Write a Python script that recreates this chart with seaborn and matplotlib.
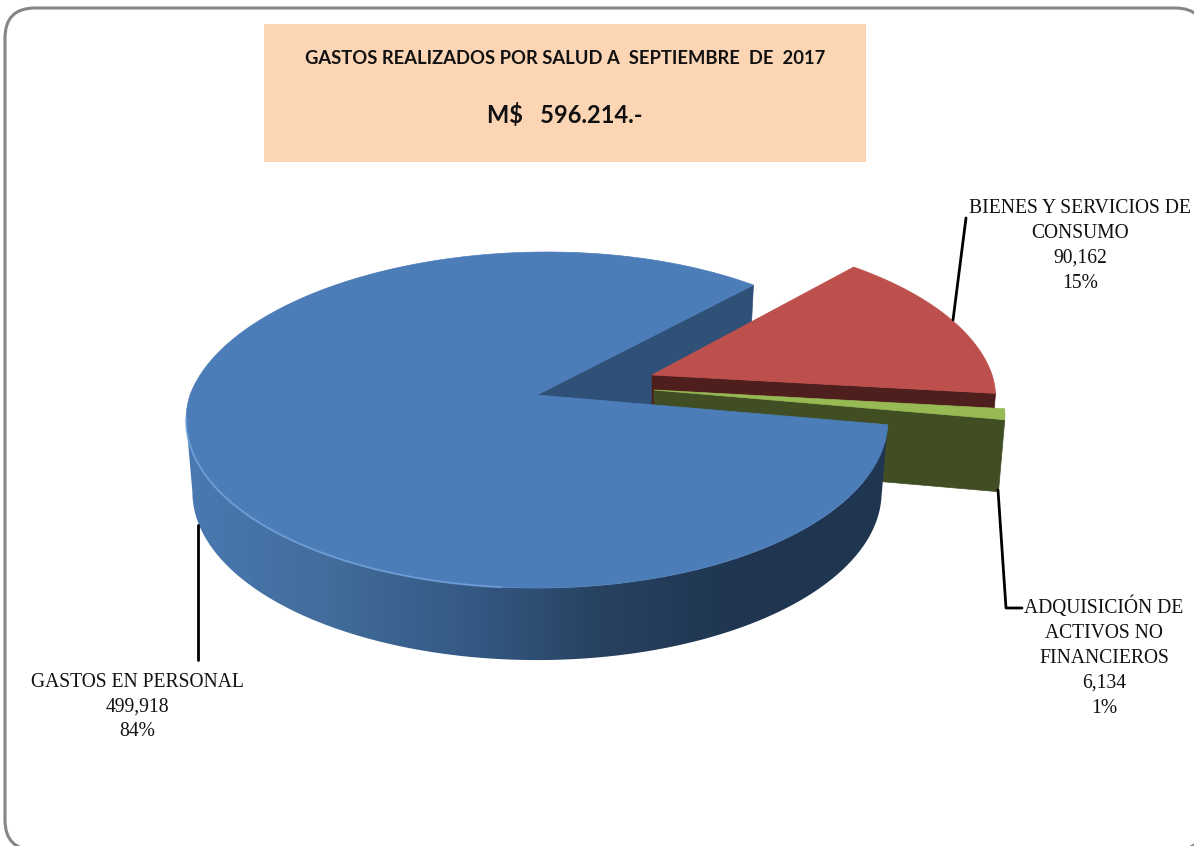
import numpy as np
import matplotlib
matplotlib.use("Agg")
import matplotlib.pyplot as plt
from matplotlib.colors import ListedColormap
from matplotlib.patches import FancyBboxPatch, Rectangle, Polygon
import seaborn as sns

# data
categories = ["GASTOS EN PERSONAL", "BIENES Y SERVICIOS DE CONSUMO", "ADQUISICIÓN DE ACTIVOS NO FINANCIEROS"]
values = [499918, 90162, 6134]
value_labels = ["499,918", "90,162", "6,134"]
pct_labels = ["84%", "15%", "1%"]
title_line = "GASTOS REALIZADOS POR SALUD A  SEPTIEMBRE  DE  2017"
total_line = "M$   596.214.-"

sns.set_theme(style="white")
plt.rcParams["font.family"] = ["Liberation Serif", "DejaVu Serif"]

# pie geometry in pixels
CX, CY = 537, 395
RX, RY = 347, 164.3
K = 0.149
DEPTH = 72
START = 48.0

# angles from the values, going clockwise from START
fracs = np.array(values) / sum(values)
blue_span = fracs[0] * 360
red_a = (START, START - fracs[1] * 360)
green_a = (red_a[1], red_a[1] - fracs[2] * 360)
blue_a = (green_a[1], green_a[1] - blue_span)


def project(theta, r=1.0, z=0.0, offset=(0, 0), skew=0.0):
    theta = np.radians(theta)
    u = r * np.cos(theta)
    v = -r * np.sin(theta)
    w = 1 - K * v
    shrink = 1 - 0.018 * z
    # skew only leans the back half of the ellipse
    x = CX + offset[0] + RX * u / w * shrink + skew * np.minimum(v, 0)
    y = CY + offset[1] + RY * v / w + DEPTH * z
    return x, y


def arc(a0, a1, r=1.0, z=0.0, offset=(0, 0), skew=0.0, n=300):
    return project(np.linspace(a0, a1, n), r, z, offset, skew)


def top_face(ax, angles, color, r=1.0, offset=(0, 0), skew=0.0, zorder=2):
    x, y = arc(angles[0], angles[1], r, 0, offset, skew)
    ax0, ay0 = project(0, 0, 0, offset)
    ax.fill(np.r_[ax0, x], np.r_[ay0, y], color=color, lw=0.5, zorder=zorder)


def cut_wall(ax, angle, color, r=1.0, offset=(0, 0), skew=0.0, zorder=1):
    x0, y0 = project(0, 0, 0, offset)
    x1, y1 = project(angle, r, 0, offset, skew)
    x2, y2 = project(angle, r, 1, offset, skew)
    x3, y3 = project(0, 0, 1, offset)
    ax.fill([x0, x1, x2, x3], [y0, y1, y2, y3], color=color, lw=0.5, zorder=zorder)


fig = plt.figure(figsize=(11.94, 8.46), dpi=100)
ax = fig.add_axes([0, 0, 1, 1])

# outer frame and title box
ax.add_patch(FancyBboxPatch((5, 8), 1200, 842, boxstyle="round,pad=0,rounding_size=30",
                            fc="white", ec="#868686", lw=2.2, zorder=0))
ax.add_patch(Rectangle((264, 24), 602, 138, fc="#FCD5B5", ec="none", zorder=1))
ax.text(565, 58, title_line, ha="center", va="center", fontsize=13.2, fontweight="bold",
        family="Lato", color="#111111", zorder=5)
ax.text(565, 115, total_line, ha="center", va="center", fontsize=17, fontweight="bold",
        family="Lato", color="#111111", zorder=5)

BLUE_SKEW = -10

# back wall of the big slice
cut_wall(ax, blue_a[1], "#2F5178", skew=BLUE_SKEW, zorder=1)

# red slice
red_off = (115, -20)
cut_wall(ax, red_a[1], "#4F1F1E", r=0.98, offset=red_off, zorder=2)
top_face(ax, red_a, "#BD504D", r=0.98, offset=red_off, skew=5, zorder=3)

# green slice
green_off = (117, -5)
cut_wall(ax, green_a[1], "#414E24", offset=green_off, zorder=4)
top_face(ax, green_a, "#97BA55", offset=green_off, zorder=5)

# rim of the big slice, only the part facing the viewer, shaded left to right
tx, ty = arc(blue_a[0], -200, skew=BLUE_SKEW)
bx, by = arc(blue_a[0], -200, z=1, skew=BLUE_SKEW)
cut = tx.argmin() + 1  # stop at the left silhouette so the edge runs straight down
rim = Polygon(np.c_[np.r_[tx[:cut], bx[:cut][::-1]], np.r_[ty[:cut], by[:cut][::-1]]], closed=True,
              fc="none", ec="none", transform=ax.transData)
ax.add_patch(rim)
rim_cols = sns.blend_palette(["#4A79B3", "#426D9C", "#355A85", "#27415F", "#1F3550", "#1F3550"], n_colors=256)
shade = ax.imshow(np.linspace(0, 1, 256)[None, :], extent=(180, 890, 670, 400), aspect="auto",
                  cmap=ListedColormap(rim_cols), zorder=6)
shade.set_clip_path(rim)

# top of the big slice with light bevel on the front edge
top_face(ax, blue_a, "#4C7DB9", skew=BLUE_SKEW, zorder=7)
hx, hy = arc(-95, -172, skew=BLUE_SKEW)
ax.plot(hx, hy, color="#78A8E2", lw=1.4, alpha=0.7, zorder=8)

# leader lines
ax.plot([966, 953], [218, 320], color="black", lw=2, zorder=9)
ax.plot([198, 198], [525, 660], color="black", lw=2, zorder=9)
ax.plot([998, 1006, 1022], [490, 608, 608], color="black", lw=2, zorder=9)

# labels
fs = 14.1
ls = 1.42
ax.text(137, 707, f"GASTOS EN PERSONAL\n{value_labels[0]}\n{pct_labels[0]}", ha="center", va="center",
        fontsize=fs, color="#111111", linespacing=ls, zorder=10)
ax.text(1080, 246, f"BIENES Y SERVICIOS DE\nCONSUMO\n{value_labels[1]}\n{pct_labels[1]}", ha="center", va="center",
        fontsize=fs, color="#111111", linespacing=ls, zorder=10)
ax.text(1104, 657, f"ADQUISICIÓN DE\nACTIVOS NO\nFINANCIEROS\n{value_labels[2]}\n{pct_labels[2]}", ha="center", va="center",
        fontsize=fs, color="#111111", linespacing=ls, zorder=10)

ax.set_xlim(0, 1194)
ax.set_ylim(846, 0)
ax.axis("off")

plt.savefig("out.png", dpi=100)
plt.close()
